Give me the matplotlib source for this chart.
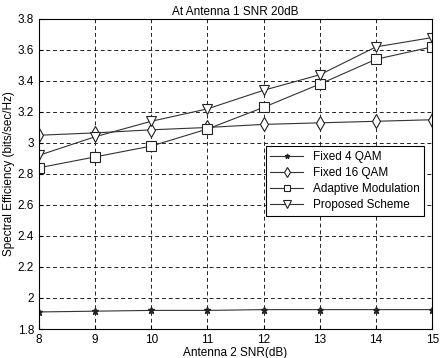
import matplotlib
matplotlib.use("Agg")
import matplotlib.pyplot as plt

plt.rcParams['font.family'] = ['Liberation Sans', 'DejaVu Sans']

snr = [8, 9, 10, 11, 12, 13, 14, 15]
fixed4 = [1.91, 1.915, 1.92, 1.92, 1.925, 1.925, 1.925, 1.925]
fixed16 = [3.05, 3.065, 3.085, 3.10, 3.12, 3.13, 3.14, 3.15]
adaptive = [2.84, 2.91, 2.98, 3.09, 3.23, 3.38, 3.54, 3.62]
proposed = [2.92, 3.04, 3.14, 3.22, 3.34, 3.44, 3.62, 3.68]

fig = plt.figure(figsize=(4.41, 3.58), dpi=100)
ax = fig.add_axes([0.088, 0.081, 0.892, 0.866])

kw = dict(color='#333333', lw=0.8, mfc='white', mec='#222222', mew=0.8)
ax.plot(snr, fixed4, marker='*', ms=5, mfc='#222222', label='Fixed 4 QAM', color='#333333', lw=0.8, mec='#222222')
ax.plot(snr, fixed16, marker='d', ms=7, label='Fixed 16 QAM', **kw)
ax.plot(snr, adaptive, marker='s', ms=6.5, label='Adaptive Modulation', **kw)
ax.plot(snr, proposed, marker='v', ms=7.5, label='Proposed Scheme', **kw)

ax.set_xlim(8, 15)
ax.set_ylim(1.8, 3.8)
ax.set_yticks([1.8, 2, 2.2, 2.4, 2.6, 2.8, 3, 3.2, 3.4, 3.6, 3.8])
ax.set_yticklabels(['1.8', '2', '2.2', '2.4', '2.6', '2.8', '3', '3.2', '3.4', '3.6', '3.8'])
ax.grid(True, ls=(0, (4, 3)), color='#222222', lw=0.7)
ax.tick_params(direction='in', labelsize=8.5, length=3)
ax.set_xlabel('Antenna 2 SNR(dB)', fontsize=8.5, labelpad=1)
ax.set_ylabel('Spectral Efficiency (bits/sec/Hz)', fontsize=8.5, labelpad=2)
ax.set_title('At Antenna 1 SNR 20dB', fontsize=8.5, pad=3)

leg = ax.legend(loc='center right', bbox_to_anchor=(0.995, 0.477), fontsize=8.5,
                fancybox=False, edgecolor='black', framealpha=1, markerscale=0.7,
                handlelength=2.8, borderpad=0.4, labelspacing=0.35)
leg.get_frame().set_linewidth(0.8)

fig.savefig('out.png', dpi=100)
